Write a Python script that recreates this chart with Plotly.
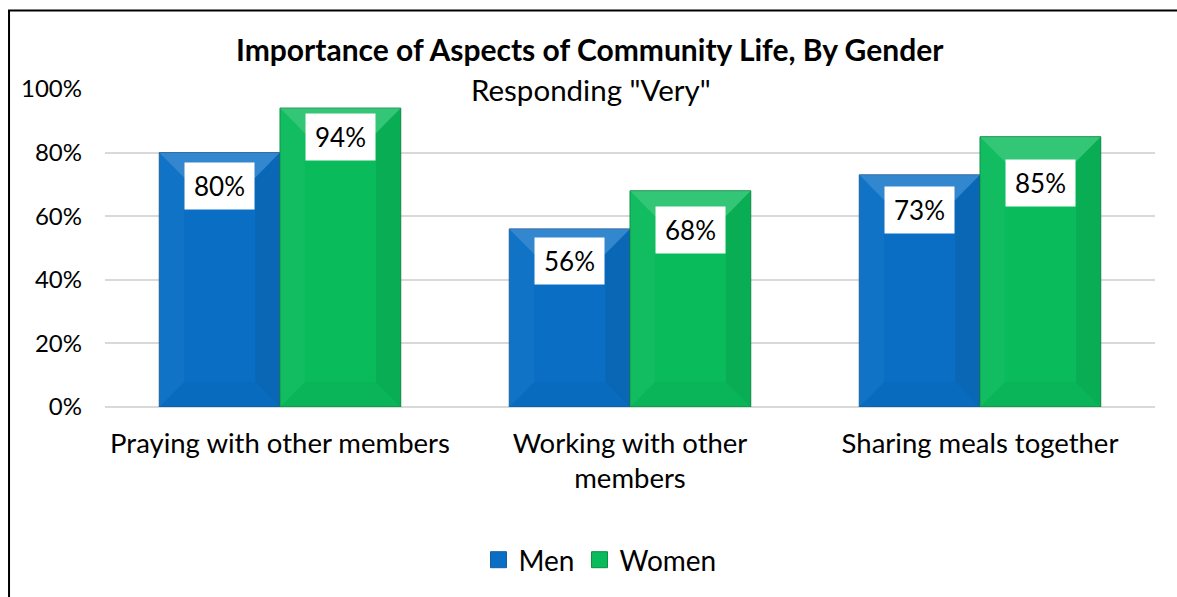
import plotly.graph_objects as go

# Survey results: share responding "Very" important, by gender
categories = ["Praying with other members", "Working with other<br>members", "Sharing meals together"]
men = [80, 56, 73]
women = [94, 68, 85]
y_ticks = [0, 20, 40, 60, 80, 100]
y_tick_labels = ["0%", "20%", "40%", "60%", "80%", "100%"]

# pixel distance from each bar top down to the centre of its value label
men_label_drop = [33.5, 32, 35.5]
women_label_drop = [29, 39, 46]

FONT = "Lato"
BLUE = "#0A6FC4"
BLUE_EDGE = "#1A5C9C"
GREEN = "#0ABB5B"
GREEN_EDGE = "#0C8E47"

BARGAP = 0.31
BAR_W = (1 - BARGAP) / 2  # width of one bar in category units

fig = go.Figure()
fig.add_bar(x=categories, y=men, name="Men", marker=dict(color=BLUE, line=dict(color=BLUE_EDGE, width=1)),
            showlegend=False)
fig.add_bar(x=categories, y=women, name="Women", marker=dict(color=GREEN, line=dict(color=GREEN_EDGE, width=1)),
            showlegend=False)

# legend entries with square swatches
fig.add_scatter(x=[None], y=[None], mode="markers", name="Men",
                marker=dict(symbol="square", size=17, color=BLUE, line=dict(color=BLUE_EDGE, width=1)))
fig.add_scatter(x=[None], y=[None], mode="markers", name="Women",
                marker=dict(symbol="square", size=17, color=GREEN, line=dict(color=GREEN_EDGE, width=1)))

# bevel facets on each bar, laid out in axis units
DX = 0.071  # horizontal inset (category units)
DY = 7.9    # vertical inset (percent units)
shapes = []


def bevel(x0, x1, v):
    facets = [
        ([(x0, v), (x1, v), (x1 - DX, v - DY), (x0 + DX, v - DY)], "rgba(255,255,255,0.17)"),
        ([(x0, 0), (x0, v), (x0 + DX, v - DY), (x0 + DX, DY)], "rgba(255,255,255,0.03)"),
        ([(x1, 0), (x1, v), (x1 - DX, v - DY), (x1 - DX, DY)], "rgba(0,0,0,0.07)"),
        ([(x0, 0), (x1, 0), (x1 - DX, DY), (x0 + DX, DY)], "rgba(0,0,0,0.03)"),
    ]
    for pts, col in facets:
        path = "M " + " L ".join(f"{px},{py}" for px, py in pts) + " Z"
        shapes.append(dict(type="path", path=path, xref="x", yref="y", fillcolor=col,
                           line=dict(width=0), layer="above"))


annotations = []
for i, (m, w) in enumerate(zip(men, women)):
    bevel(i - BAR_W, i, m)
    bevel(i, i + BAR_W, w)
    for xc, v, drop in ((i - BAR_W / 2, m, men_label_drop[i]), (i + BAR_W / 2, w, women_label_drop[i])):
        annotations.append(dict(x=xc, y=v, xref="x", yref="y", text=f"{v}%", showarrow=False,
                                yanchor="middle", yshift=-drop, bgcolor="white", width=67, height=44,
                                font=dict(family=FONT, size=26, color="black")))

# outer frame of the chart area
shapes.append(dict(type="rect", xref="paper", yref="paper", x0=-0.0914, x1=1.05, y0=-0.7, y1=1.2468,
                   line=dict(color="black", width=2), fillcolor="rgba(0,0,0,0)", layer="above"))

annotations.append(dict(text="<b>Importance of Aspects of Community Life, By Gender</b>", xref="paper", yref="paper",
                        x=(590 - 105) / 1050, y=1 + 40 / 318, xanchor="center", yanchor="middle",
                        showarrow=False, font=dict(family=FONT, size=30, color="black")))
annotations.append(dict(text='Responding "Very"', xref="paper", yref="paper",
                        x=(591 - 105) / 1050, y=1.0, xanchor="center", yanchor="middle",
                        showarrow=False, font=dict(family=FONT, size=29.5, color="black")))

fig.update_layout(
    width=1177, height=597,
    margin=dict(l=105, r=22, t=89, b=190),
    paper_bgcolor="white", plot_bgcolor="white",
    barmode="group", bargap=BARGAP, bargroupgap=0,
    font=dict(family=FONT, size=24, color="black"),
    shapes=shapes, annotations=annotations,
    showlegend=True,
    legend=dict(orientation="h", x=(600 - 105) / 1050, xanchor="center", y=-(560 - 407) / 318, yanchor="middle",
                font=dict(family=FONT, size=28, color="black"), itemsizing="trace", itemwidth=30,
                bgcolor="rgba(0,0,0,0)"),
    xaxis=dict(type="category", showgrid=False, showline=False, ticks="", ticklabelstandoff=17,
               tickfont=dict(family=FONT, size=27.5, color="black")),
    yaxis=dict(range=[0, 100], tickvals=y_ticks, ticktext=y_tick_labels, showgrid=True,
               gridcolor="#D9D9D9", gridwidth=2, zeroline=True, zerolinecolor="#D9D9D9", zerolinewidth=2,
               showline=False, ticks="", ticklabelstandoff=22, tickfont=dict(family=FONT, size=24, color="black")),
)

fig.write_html("out.html")
